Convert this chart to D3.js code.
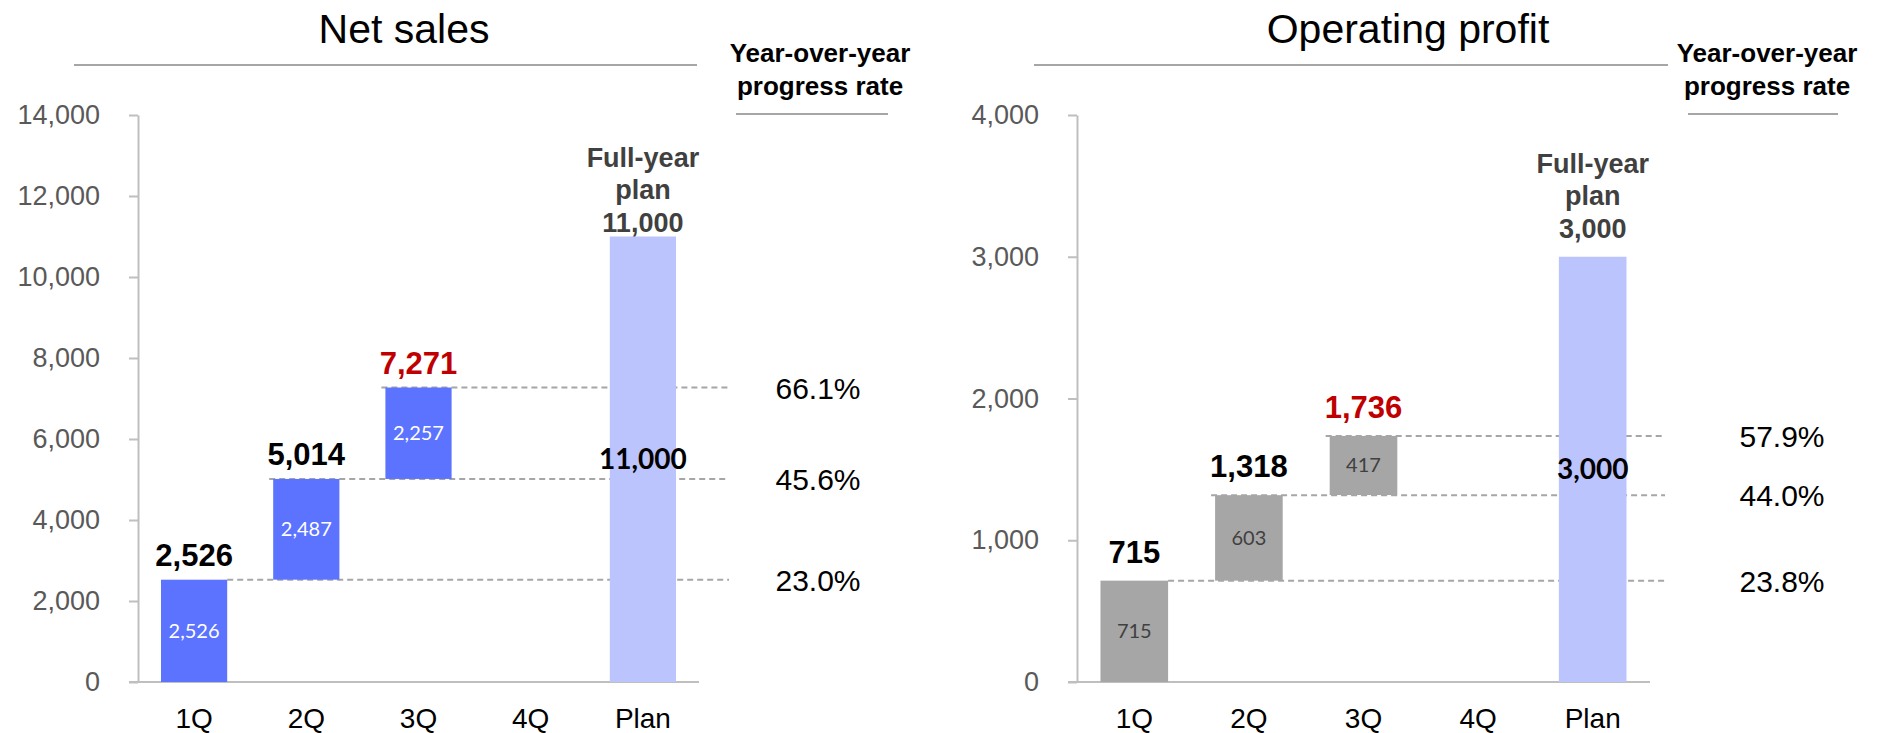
<!DOCTYPE html>
<html>
<head>
<meta charset="utf-8">
<script src="https://cdn.jsdelivr.net/npm/d3@7"></script>
<style>
body{margin:0;background:#fff;}
text{font-family:Arial,"Liberation Sans",sans-serif;}
text.calibri{font-family:Lato,"Open Sans",sans-serif;}
</style>
</head>
<body>
<svg id="chart" width="1885" height="733"></svg>
<script>
var categories=["1Q","2Q","3Q","4Q","Plan"];
var salesQuarter=[2526,2487,2257];
var salesCumulative=[2526,5014,7271];
var salesPlan=11000;
var salesRates=["23.0%","45.6%","66.1%"];
var salesTicks=[0,2000,4000,6000,8000,10000,12000,14000];
var profitQuarter=[715,603,417];
var profitCumulative=[715,1318,1736];
var profitPlan=3000;
var profitRates=["23.8%","44.0%","57.9%"];
var profitTicks=[0,1000,2000,3000,4000];
var planHeader=["Full-year","plan"];
var rateHeader=["Year-over-year","progress rate"];

var fmt=d3.format(",");
var svg=d3.select("#chart");

function drawPanel(o){
    var g=svg.append("g");
    var y=d3.scaleLinear().domain([0,d3.max(o.ticks)]).range([682,115]);
    var x=d3.scaleBand().domain(categories).range([o.left,o.right]).paddingInner(0.41).paddingOuter(0.205);
    var bw=x.bandwidth();

    // title + rules
    g.append("text").attr("x",o.titleX).attr("y",43).attr("text-anchor","middle")
        .attr("font-size",41).attr("fill","#000").text(o.title);
    g.append("line").attr("x1",o.titleRule[0]).attr("x2",o.titleRule[1]).attr("y1",65).attr("y2",65)
        .attr("stroke","#a6a6a6").attr("stroke-width",2);
    rateHeader.forEach(function(t,i){
        g.append("text").attr("x",o.rateHeadX).attr("y",62+i*33).attr("text-anchor","middle")
            .attr("font-size",26).attr("font-weight","bold").attr("fill","#000").text(t);
    });
    g.append("line").attr("x1",o.rateRule[0]).attr("x2",o.rateRule[1]).attr("y1",114).attr("y2",114)
        .attr("stroke","#a6a6a6").attr("stroke-width",2);

    // dashed progress lines (behind bars)
    o.cum.forEach(function(v,i){
        var c=categories[i];
        g.append("line")
            .attr("x1",i===0?x(c)+bw:x(c)-4).attr("x2",o.lineEnd)
            .attr("y1",y(v)).attr("y2",y(v))
            .attr("stroke","#a6a6a6").attr("stroke-width",2).attr("stroke-dasharray","6,4");
        g.append("text").attr("x",o.rateX).attr("y",y(v)+11).attr("text-anchor","middle")
            .attr("font-size",30).attr("fill","#000").text(o.rates[i]);
    });

    // y axis
    var ya=g.append("g").attr("transform","translate("+o.left+",0)")
        .call(d3.axisLeft(y).tickValues(o.ticks).tickSize(9).tickSizeOuter(0).tickPadding(29).tickFormat(fmt));
    ya.select(".domain").attr("stroke","#bfbfbf").attr("stroke-width",2);
    ya.selectAll(".tick line").attr("stroke","#bfbfbf").attr("stroke-width",2);
    ya.selectAll(".tick text").attr("font-size",27).attr("fill","#595959").attr("font-family",null);

    // x axis
    var xa=g.append("g").attr("transform","translate(0,682)")
        .call(d3.axisBottom(x).tickSize(0).tickPadding(26));
    xa.select(".domain").remove();
    xa.selectAll(".tick text").attr("font-size",28).attr("fill","#000").attr("font-family",null);
    g.append("line").attr("x1",o.left-9).attr("x2",o.right).attr("y1",682).attr("y2",682)
        .attr("stroke","#bfbfbf").attr("stroke-width",2);

    // quarterly bars
    var bars=o.quarter.map(function(q,i){return {cat:categories[i],q:q,top:o.cum[i],base:o.cum[i]-q,last:i===o.quarter.length-1};});
    g.selectAll(".bar").data(bars).enter().append("rect").attr("class","bar")
        .attr("x",function(d){return x(d.cat);}).attr("width",bw)
        .attr("y",function(d){return y(d.top);})
        .attr("height",function(d){return y(d.base)-y(d.top);})
        .attr("fill",o.barColor);
    g.selectAll(".inner").data(bars).enter().append("text").attr("class","inner calibri")
        .attr("x",function(d){return x(d.cat)+bw/2;})
        .attr("y",function(d){return y((d.top+d.base)/2);}).attr("dy","0.35em")
        .attr("text-anchor","middle").attr("font-size",20)
        .attr("fill",o.innerColor).text(function(d){return fmt(d.q);});
    g.selectAll(".total").data(bars).enter().append("text").attr("class","total")
        .attr("x",function(d){return x(d.cat)+bw/2;})
        .attr("y",function(d){return y(d.top)-o.labelGap;})
        .attr("text-anchor","middle").attr("font-size",31).attr("font-weight","bold")
        .attr("fill",function(d){return d.last?"#c00000":"#000";}).text(function(d){return fmt(d.top);});

    // plan bar
    var px=x("Plan");
    g.append("rect").attr("x",px).attr("width",bw).attr("y",y(o.plan)).attr("height",y(0)-y(o.plan)).attr("fill","#bcc4fd");
    g.append("text").attr("class","calibri").attr("x",px+bw/2).attr("y",y(o.plan/2)).attr("dy","0.35em").attr("text-anchor","middle")
        .attr("font-size",28).attr("font-weight","bold")
        .attr("fill","#000").text(fmt(o.plan));
    planHeader.concat([fmt(o.plan)]).forEach(function(t,i){
        g.append("text").attr("x",px+bw/2).attr("y",y(o.plan)-o.planGap-(2-i)*32.5).attr("text-anchor","middle")
            .attr("font-size",27).attr("font-weight","bold").attr("fill","#404040").text(t);
    });
}

drawPanel({title:"Net sales",left:138,right:699,titleX:404,titleRule:[74,697],rateHeadX:820,rateRule:[736,888],
    rateX:818,lineEnd:729,labelGap:14,planGap:5,barColor:"#5b73ff",innerColor:"#ffffff",
    quarter:salesQuarter,cum:salesCumulative,plan:salesPlan,rates:salesRates,ticks:salesTicks});
drawPanel({title:"Operating profit",left:1077,right:1650,titleX:1408,titleRule:[1034,1668],rateHeadX:1767,rateRule:[1688,1838],
    rateX:1782,lineEnd:1665,labelGap:18,planGap:19,barColor:"#a6a6a6",innerColor:"#404040",
    quarter:profitQuarter,cum:profitCumulative,plan:profitPlan,rates:profitRates,ticks:profitTicks});
</script>
</body>
</html>
